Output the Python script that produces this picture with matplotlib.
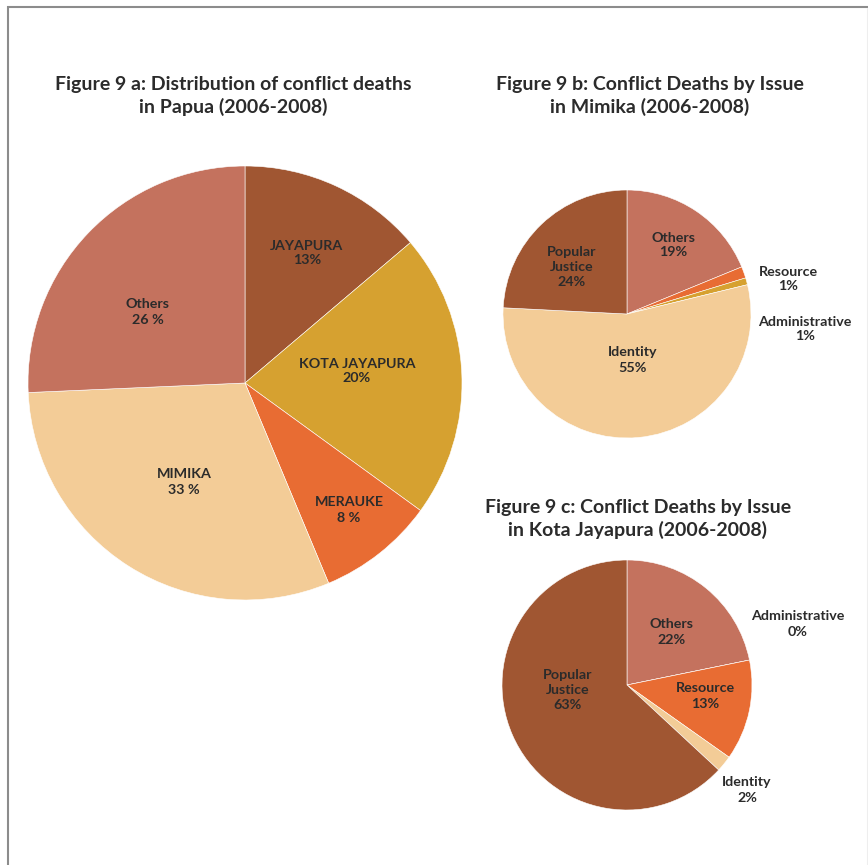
import matplotlib
matplotlib.use("Agg")
import matplotlib.pyplot as plt

# ----------------------------
# Data (shares; label strings as printed)
# ----------------------------
papua_names = ["JAYAPURA", "KOTA JAYAPURA", "MERAUKE", "MIMIKA", "Others"]
papua_shares = [13.8, 21.2, 8.7, 30.6, 25.7]
papua_pct = ["13%", "20%", "8 %", "33 %", "26 %"]

mimika_names = ["Others", "Resource", "Administrative", "Identity", "Popular\nJustice"]
mimika_shares = [18.8, 1.5, 0.9, 54.6, 24.2]
mimika_pct = ["19%", "1%", "1%", "55%", "24%"]

kota_names = ["Others", "Administrative", "Resource", "Identity", "Popular\nJustice"]
kota_shares = [21.8, 0.0, 13.0, 2.1, 63.1]
kota_pct = ["22%", "0%", "13%", "2%", "63%"]

# ----------------------------
# Style
# ----------------------------
BROWN = "#A05632"
SALMON = "#C4725E"
GOLD = "#D6A130"
ORANGE = "#E86C33"
LIGHT = "#F3CC97"
TXT = "#2b2b2b"
FONT = ["Lato", "DejaVu Sans"]

W, H = 868, 865  # canvas in pixels, y measured from the top


def Y(y):
    return H - y


fig = plt.figure(figsize=(W / 100, H / 100), dpi=100)
ax = fig.add_axes([0, 0, 1, 1])


def draw_pie(cx, cy, r, shares, colors, names, pcts, label_xy):
    ax.pie(
        shares,
        colors=colors,
        startangle=90,
        counterclock=False,
        center=(cx, Y(cy)),
        radius=r,
        wedgeprops=dict(edgecolor="white", linewidth=0.4),
    )
    for name, pct, (lx, ly) in zip(names, pcts, label_xy):
        ax.text(lx, Y(ly), f"{name}\n{pct}", ha="center", va="center",
                fontsize=10.3, fontweight="bold", color=TXT, family=FONT,
                linespacing=1.3)


# Figure 9 a
draw_pie(245, 383, 217, papua_shares,
         [BROWN, GOLD, ORANGE, LIGHT, SALMON],
         papua_names, papua_pct,
         [(307, 253), (357, 371), (349, 510), (184, 482), (148, 312)])

# Figure 9 b
draw_pie(627, 314, 124, mimika_shares,
         [SALMON, ORANGE, GOLD, LIGHT, BROWN],
         mimika_names, mimika_pct,
         [(673, 245), (788, 279), (805, 329), (633, 360), (572, 267)])

# Figure 9 c
draw_pie(627, 685, 125, kota_shares,
         [SALMON, GOLD, ORANGE, LIGHT, BROWN],
         kota_names, kota_pct,
         [(672, 632), (798, 624), (705, 696), (747, 790), (568, 690)])

# Titles
title_kw = dict(ha="center", va="center", fontsize=14, fontweight="bold",
                color=TXT, family=FONT, linespacing=1.32)
ax.text(233, Y(96), "Figure 9 a: Distribution of conflict deaths\nin Papua (2006-2008)", **title_kw)
ax.text(650, Y(96), "Figure 9 b: Conflict Deaths by Issue\nin Mimika (2006-2008)", **title_kw)
ax.text(638, Y(519), "Figure 9 c: Conflict Deaths by Issue\nin Kota Jayapura (2006-2008)", **title_kw)

# Frame lines (top and left)
ax.plot([7, W], [Y(6.5), Y(6.5)], color="#8c8c8c", linewidth=1.5, solid_capstyle="butt")
ax.plot([7.5, 7.5], [Y(6), 0], color="#8c8c8c", linewidth=1.5, solid_capstyle="butt")
ax.plot([866.5, 866.5], [Y(8), 0], color="#eeeeee", linewidth=0.8)

ax.set_xlim(0, W)
ax.set_ylim(0, H)
ax.set_aspect("auto")
ax.axis("off")

fig.savefig("out.png", dpi=100, facecolor="white")
